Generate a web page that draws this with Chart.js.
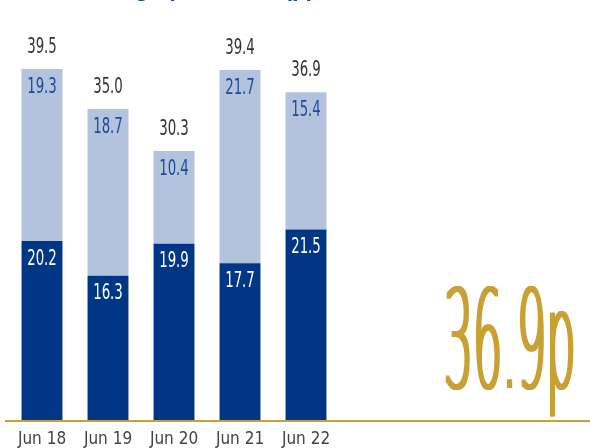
<!DOCTYPE html>
<html>
<head>
<meta charset="utf-8">
<script src="https://cdn.jsdelivr.net/npm/chart.js@4.4.1/dist/chart.umd.min.js"></script>
<style>
  html, body { margin: 0; padding: 0; background: #fff; }
  #wrap { width: 590px; height: 448px; position: relative; }
</style>
</head>
<body>
<div id="wrap"><canvas id="epsChart"></canvas></div>
<script>
var categories = ["Jun 18", "Jun 19", "Jun 20", "Jun 21", "Jun 22"];
var lowerValues = [20.2, 16.3, 19.9, 17.7, 21.5];
var upperValues = [19.3, 18.7, 10.4, 21.7, 15.4];
var totals = [39.5, 35.0, 30.3, 39.4, 36.9];
var headline = "36.9p";
var titleText = "Earnings per share (p)";

var NARROW = "'DejaVu Sans Condensed', 'Liberation Sans Narrow', sans-serif";
var GOLD = "#c9a033";

function tallText(ctx, txt, x, y, font, sx, sy, color, align, baseline) {
  ctx.save();
  ctx.font = font;
  ctx.fillStyle = color;
  ctx.textAlign = align || "center";
  ctx.textBaseline = baseline || "middle";
  ctx.translate(x, y);
  ctx.scale(sx, sy);
  ctx.fillText(txt, 0, 0);
  ctx.restore();
}

var extras = {
  id: "extras",
  beforeDraw: function (chart) {
    var ctx = chart.ctx;
    // title, cut off by the top edge (only descenders show)
    ctx.save();
    ctx.font = "bold 24px 'Liberation Sans', Arial, sans-serif";
    ctx.fillStyle = "#1d4a9a";
    ctx.textBaseline = "alphabetic";
    ctx.fillText(titleText, 60, -4.5);
    ctx.restore();
  },
  afterDatasetsDraw: function (chart) {
    var ctx = chart.ctx;
    var y0 = chart.scales.y.getPixelForValue(0);
    // gold baseline
    ctx.save();
    ctx.strokeStyle = GOLD;
    ctx.lineWidth = 2;
    ctx.beginPath();
    ctx.moveTo(5, y0);
    ctx.lineTo(590, y0);
    ctx.stroke();
    ctx.restore();

    var f = "19px " + NARROW;
    var lower = chart.getDatasetMeta(0).data;
    var upper = chart.getDatasetMeta(1).data;
    lower.forEach(function (bar, i) {
      tallText(ctx, lowerValues[i].toFixed(1), bar.x, bar.y + 18, f, 0.78, 1.15, "#ffffff");
    });
    upper.forEach(function (bar, i) {
      tallText(ctx, upperValues[i].toFixed(1), bar.x, bar.y + 18, f, 0.78, 1.15, "#1d4a9a");
      tallText(ctx, totals[i].toFixed(1), bar.x, bar.y - 22, f, 0.78, 1.15, "#333333");
    });

    // headline figure: thin face, widened stems by repeated horizontal offsets
    [-1.5, -0.5, 0.5, 1.5].forEach(function (dx) {
      tallText(ctx, headline, 575.5 + dx, 388, "200 64px 'DejaVu Sans', sans-serif", 0.72, 2.14, GOLD, "right", "alphabetic");
    });
  }
};

new Chart(document.getElementById("epsChart"), {
  type: "bar",
  data: {
    labels: categories,
    datasets: [
      {
        data: lowerValues,
        backgroundColor: "#003686",
        barPercentage: 0.62,
        categoryPercentage: 1
      },
      {
        data: upperValues,
        backgroundColor: "#b3c3dd",
        barPercentage: 0.62,
        categoryPercentage: 1
      }
    ]
  },
  options: {
    responsive: true,
    maintainAspectRatio: false,
    animation: false,
    layout: { padding: { top: 20, left: 9, right: 251, bottom: 0 } },
    plugins: { legend: { display: false }, tooltip: { enabled: false } },
    scales: {
      x: {
        stacked: true,
        grid: { display: false },
        border: { display: false },
        ticks: {
          color: "#444444",
          font: { family: NARROW, size: 17 },
          padding: 0,
          maxRotation: 0
        },
        afterFit: function (s) { s.height = 27; }
      },
      y: {
        stacked: true,
        display: false,
        min: 0,
        max: 45
      }
    }
  },
  plugins: [extras]
});
</script>
</body>
</html>
